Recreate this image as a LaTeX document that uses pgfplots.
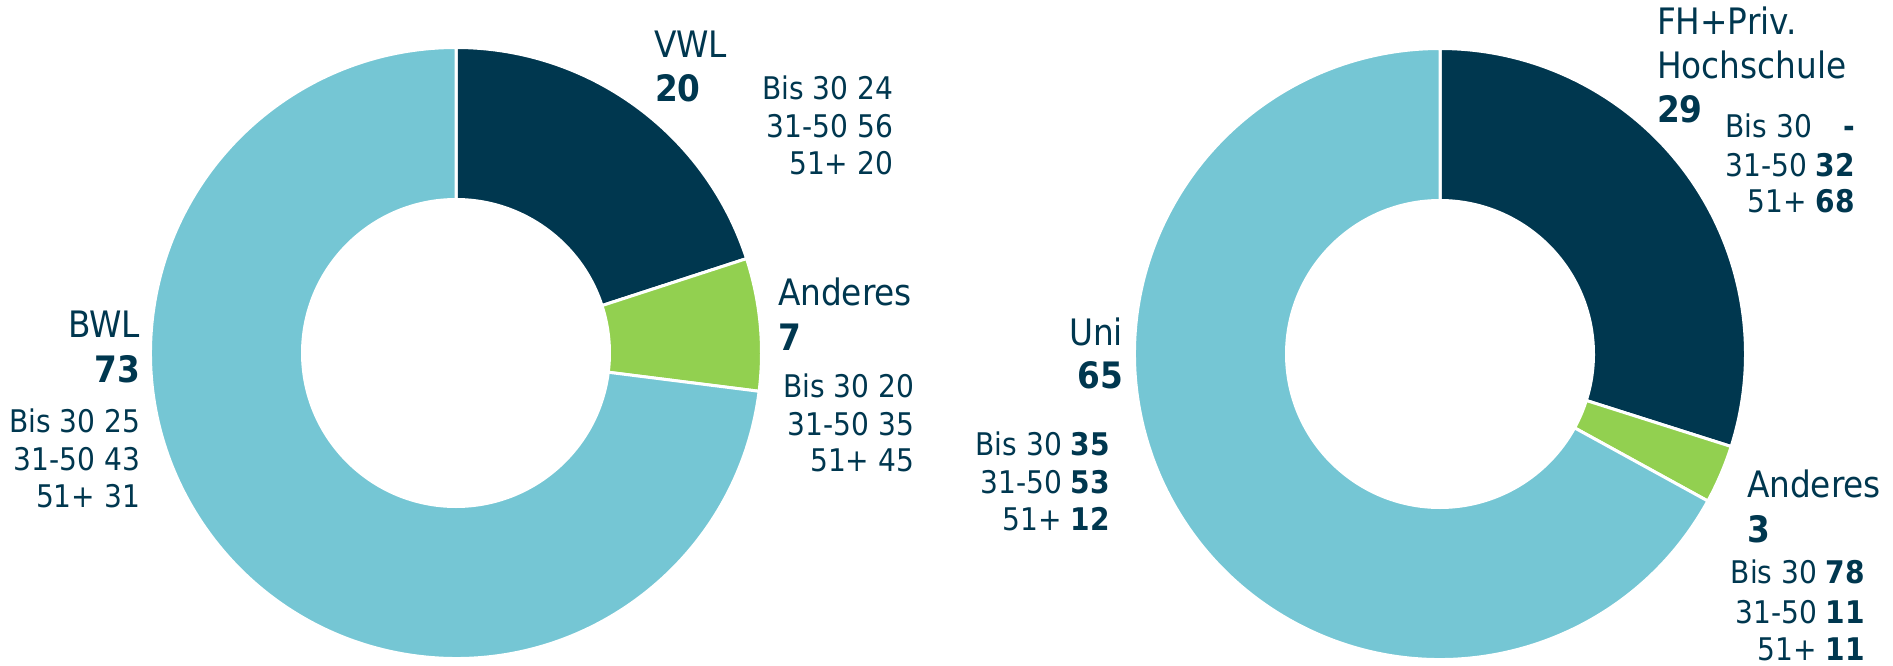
\documentclass[border=0pt]{standalone}
\usepackage{pgfplots}
\pgfplotsset{compat=1.18}
\usepackage{pgfplotstable}
\usepackage{fontspec}
\setmainfont{DejaVu Sans Condensed}
\definecolor{navy}{HTML}{00374F}
\definecolor{lblue}{HTML}{75C6D4}
\definecolor{lgreen}{HTML}{92D050}
\tikzset{lbl/.style={inner sep=0pt, outer sep=0pt, text=navy}}

\pgfplotstableread{
label value
VWL 20
Anderes 7
BWL 73
}\leftdata
\pgfplotstableread{
label value
FH 29
Anderes 3
Uni 65
}\rightdata

% sector: cx, cy, start angle, end angle, colour
\newcommand{\sector}[5]{%
  \fill[#5, draw=white, line width=1.5pt] (axis cs:#1,#2) ++(#3:152.75pt)
    arc[start angle=#3, end angle=#4, radius=152.75pt]
    -- ++(#4+180:76pt)
    arc[start angle=#4, end angle=#3, radius=76.75pt] -- cycle;}

\newcommand{\labf}{\fontsize{18.2pt}{22pt}\selectfont\color{navy}}
\newcommand{\detf}{\fontsize{15.6pt}{18.75pt}\selectfont\color{navy}}

\begin{document}
\begin{tikzpicture}
% angles from the data (clockwise from 12 o'clock)
\pgfplotstablegetelem{0}{value}\of\leftdata \edef\La{\pgfplotsretval}
\pgfplotstablegetelem{1}{value}\of\leftdata \edef\Lb{\pgfplotsretval}
\pgfplotstablegetelem{2}{value}\of\leftdata \edef\Lc{\pgfplotsretval}
\pgfmathsetmacro\Ltot{\La+\Lb+\Lc}
\pgfmathsetmacro\LA{90-360*\La/\Ltot}
\pgfmathsetmacro\LB{\LA-360*\Lb/\Ltot}
\pgfplotstablegetelem{0}{value}\of\rightdata \edef\Ra{\pgfplotsretval}
\pgfplotstablegetelem{1}{value}\of\rightdata \edef\Rb{\pgfplotsretval}
\pgfplotstablegetelem{2}{value}\of\rightdata \edef\Rc{\pgfplotsretval}
\pgfmathsetmacro\Rtot{\Ra+\Rb+\Rc}
\pgfmathsetmacro\RA{90-360*\Ra/\Rtot}
\pgfmathsetmacro\RB{\RA-360*\Rb/\Rtot}
\begin{axis}[
  width=946.5pt, height=332.5pt, scale only axis,
  xmin=0, xmax=1893, ymin=0, ymax=665,
  hide axis, clip=false,
]
% left donut
\sector{456}{312}{90}{\LA}{navy}
\sector{456}{312}{\LA}{\LB}{lgreen}
\sector{456}{312}{\LB}{-270}{lblue}
% right donut
\sector{1440}{311}{90}{\RA}{navy}
\sector{1440}{311}{\RA}{\RB}{lgreen}
\sector{1440}{311}{\RB}{-270}{lblue}

% left labels
\node[lbl,anchor=base west] at (axis cs:654,607) {\labf VWL};
\node[lbl,anchor=base west] at (axis cs:655,563) {\labf\bfseries 20};
\node[lbl,anchor=base east] at (axis cs:893,565) {\detf Bis 30 24};
\node[lbl,anchor=base east] at (axis cs:893,527) {\detf 31-50 56};
\node[lbl,anchor=base east] at (axis cs:893,490) {\detf 51+ 20};
\node[lbl,anchor=base west] at (axis cs:778,360) {\labf Anderes};
\node[lbl,anchor=base west] at (axis cs:778,315) {\labf\bfseries 7};
\node[lbl,anchor=base east] at (axis cs:914,268) {\detf Bis 30 20};
\node[lbl,anchor=base east] at (axis cs:914,230) {\detf 31-50 35};
\node[lbl,anchor=base east] at (axis cs:914,194) {\detf 51+ 45};
\node[lbl,anchor=base east] at (axis cs:140,328) {\labf BWL};
\node[lbl,anchor=base east] at (axis cs:140,283) {\labf\bfseries 73};
\node[lbl,anchor=base east] at (axis cs:140,233) {\detf Bis 30 25};
\node[lbl,anchor=base east] at (axis cs:140,195) {\detf 31-50 43};
\node[lbl,anchor=base east] at (axis cs:140,158) {\detf 51+ 31};

% right labels
\node[lbl,anchor=base west] at (axis cs:1657,630) {\labf FH+Priv.};
\node[lbl,anchor=base west] at (axis cs:1657,586) {\labf Hochschule};
\node[lbl,anchor=base west] at (axis cs:1657,542) {\labf\bfseries 29};
\node[lbl,anchor=base east] at (axis cs:1812,527) {\detf Bis 30};
\node[lbl,anchor=base east] at (axis cs:1855,527) {\detf\bfseries -};
\node[lbl,anchor=base east] at (axis cs:1855,488) {\detf 31-50 \textbf{32}};
\node[lbl,anchor=base east] at (axis cs:1855,452) {\detf 51+ \textbf{68}};
\node[lbl,anchor=base west] at (axis cs:1747,168) {\labf Anderes};
\node[lbl,anchor=base west] at (axis cs:1747,123) {\labf\bfseries 3};
\node[lbl,anchor=base east] at (axis cs:1865,82) {\detf Bis 30 \textbf{78}};
\node[lbl,anchor=base east] at (axis cs:1865,42) {\detf 31-50 \textbf{11}};
\node[lbl,anchor=base east] at (axis cs:1865,5) {\detf 51+ \textbf{11}};
\node[lbl,anchor=base east] at (axis cs:1123,320) {\labf Uni};
\node[lbl,anchor=base east] at (axis cs:1123,277) {\labf\bfseries 65};
\node[lbl,anchor=base east] at (axis cs:1110,210) {\detf Bis 30 \textbf{35}};
\node[lbl,anchor=base east] at (axis cs:1110,172) {\detf 31-50 \textbf{53}};
\node[lbl,anchor=base east] at (axis cs:1110,135) {\detf 51+ \textbf{12}};
\end{axis}
\pgfresetboundingbox
\useasboundingbox (0,0) rectangle (946.5pt,332.5pt);
\end{tikzpicture}
\end{document}
